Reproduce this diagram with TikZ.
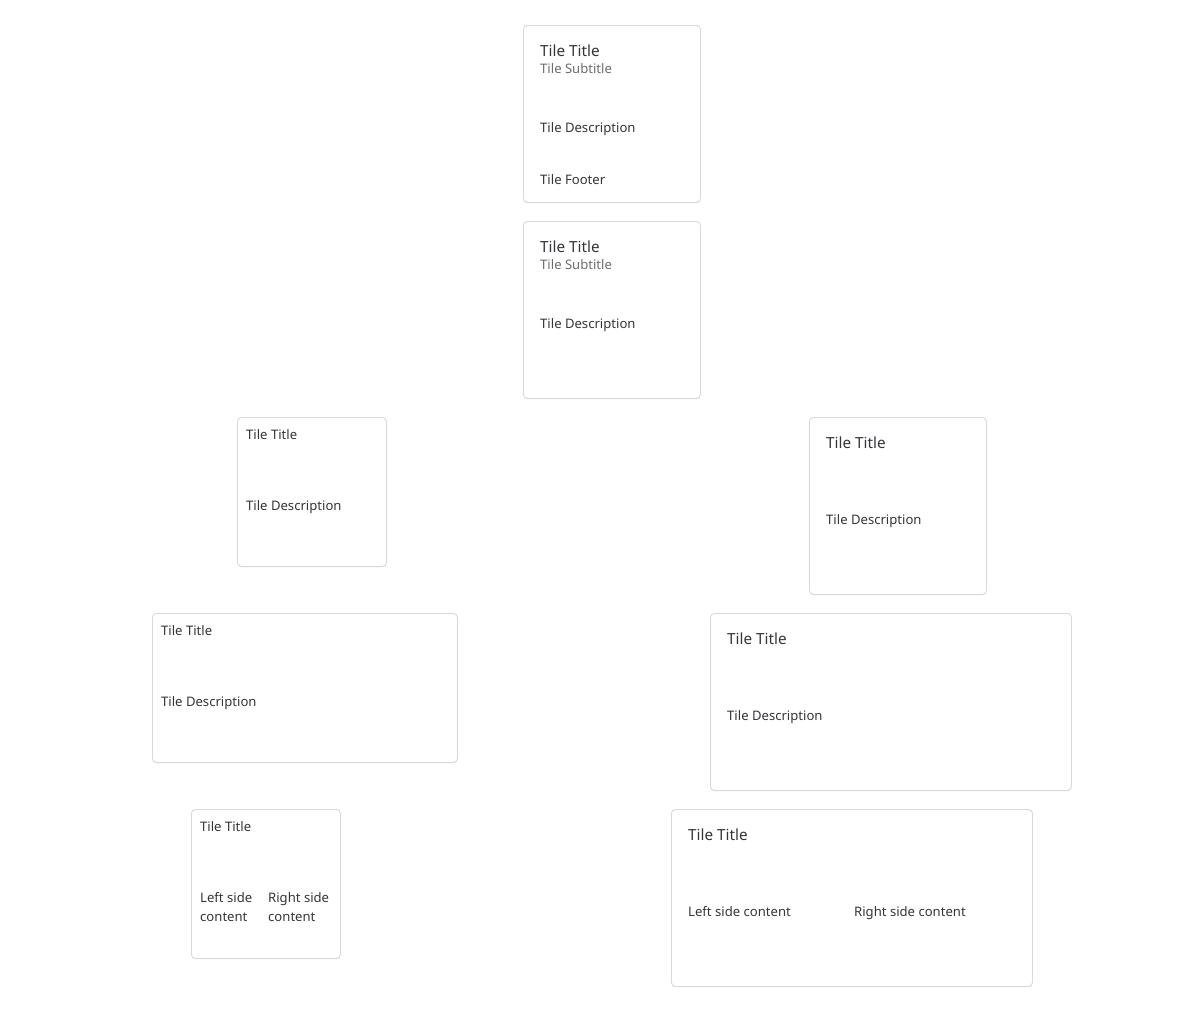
\documentclass[tikz,border=0pt]{standalone}
\usepackage{fontspec}
\setmainfont{Noto Sans}
\usetikzlibrary{shadows, positioning}
\definecolor{tileborder}{HTML}{D9D9D9}
\definecolor{tiletext}{HTML}{32363A}
\definecolor{tilesub}{HTML}{6A6D70}
\tikzset{
    tile/.style = {draw=tileborder, line width=0.9pt, fill=white, rounded corners=4pt, anchor=north west, inner sep=0pt,
        drop shadow={opacity=0.12, shadow xshift=0pt, shadow yshift=-1pt}},
}
\tikzset{
    tile text/.style = {anchor=base west, inner sep=0pt, text=tiletext, font=\fontsize{13.1}{19}\selectfont, align=left},
    tile title/.style = {tile text, font=\fontsize{15.3}{19}\selectfont},
    tile subtitle/.style = {tile text, text=tilesub},
}

\begin{document}
\begin{tikzpicture}[x=1pt, y=1pt]
                \useasboundingbox (0, 0) rectangle (1204, -1012);

                \node[tile, minimum width=177pt, minimum height=177pt] (full) at (523, -25) {};
                \node[tile title] (full title) at (540, -56) {Tile Title};
                \node[tile subtitle] (full sub) at (540, -73) {Tile Subtitle};
                \node[tile text] (full desc) at (540, -132) {Tile Description};
                \node[tile text] (full foot) at (540, -184) {Tile Footer};

                \node[tile, minimum width=177pt, minimum height=177pt] (nofoot) at (523, -221) {};
                \node[tile title] (nofoot title) at (540, -252) {Tile Title};
                \node[tile subtitle] (nofoot sub) at (540, -269) {Tile Subtitle};
                \node[tile text] (nofoot desc) at (540, -328) {Tile Description};

                \node[tile, minimum width=149pt, minimum height=149pt] (small) at (237, -417) {};
                \node[tile text] (small title) at (246, -439) {Tile Title};
                \node[tile text] (small desc) at (246, -510) {Tile Description};

                \node[tile, minimum width=177pt, minimum height=177pt] (large) at (809, -417) {};
                \node[tile title] (large title) at (826, -448) {Tile Title};
                \node[tile text] (large desc) at (826, -524) {Tile Description};

                \node[tile, minimum width=305pt, minimum height=149pt] (small wide) at (152, -613) {};
                \node[tile text] (small wide title) at (161, -635) {Tile Title};
                \node[tile text] (small wide desc) at (161, -706) {Tile Description};

                \node[tile, minimum width=361pt, minimum height=177pt] (large wide) at (710, -613) {};
                \node[tile title] (large wide title) at (727, -644) {Tile Title};
                \node[tile text] (large wide desc) at (727, -720) {Tile Description};

                \node[tile, minimum width=149pt, minimum height=149pt] (small split) at (191, -809) {};
                \node[tile text] (small split title) at (200, -831) {Tile Title};
                \node[tile text] (small split left) at (200, -921) {Left side\\content};
                \node[tile text] (small split right) at (268, -921) {Right side\\content};

                \node[tile, minimum width=361pt, minimum height=177pt] (large split) at (671, -809) {};
                \node[tile title] (large split title) at (688, -840) {Tile Title};
                \node[tile text] (large split left) at (688, -916) {Left side content};
                \node[tile text] (large split right) at (854, -916) {Right side content};
            \end{tikzpicture}
\end{document}
